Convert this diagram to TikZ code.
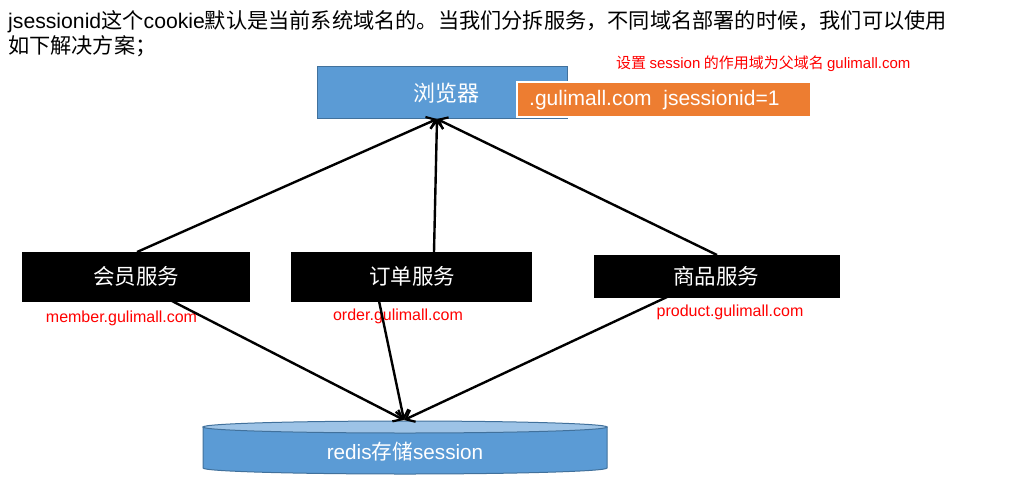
\documentclass[tikz,border=0pt]{standalone}
\usepackage{fontspec}
\setmainfont{Noto Sans CJK SC}
\newfontfamily\lat{Liberation Sans}
\usetikzlibrary{arrows.meta}
\definecolor{boxblue}{HTML}{5B9BD5}
\definecolor{boxedge}{HTML}{41719C}
\definecolor{topblue}{HTML}{9DC3E6}
\definecolor{orangefill}{HTML}{ED7D31}
\definecolor{redtxt}{HTML}{FF0000}
\tikzset{
  x=1pt,y=-1pt,
  svc/.style={fill=black,draw=black},
  svctext/.style={text=white,font=\fontsize{21.5}{24}\selectfont,inner sep=0pt},
  domlabel/.style={text=redtxt,font=\lat\fontsize{16}{18}\selectfont,anchor=center,inner sep=0pt},
  conn/.style={draw=black,line width=2.4pt,-{Straight Barb[length=8pt,width=13pt,line width=2.2pt]}},
}
\begin{document}
\begin{tikzpicture}
\useasboundingbox (0,0) rectangle (1020,488);
% title
\node[anchor=west,inner sep=0pt,font=\fontsize{21.2}{24}\selectfont] (t1) at (8,22) {{\lat jsessionid}这个{\lat cookie}默认是当前系统域名的。当我们分拆服务，不同域名部署的时候，我们可以使用};
\node[anchor=west,inner sep=0pt,font=\fontsize{21.2}{24}\selectfont] (t2) at (8,46) {如下解决方案；};
% browser
\path[fill=boxblue,draw=boxedge,line width=1pt] (317,66) rectangle (567,118);
\node[text=white,font=\fontsize{22}{24}\selectfont,inner sep=0pt] (browser) at (446,93) {浏览器};
\coordinate (btip) at (437,119);
% orange cookie box
\path[fill=orangefill,draw=white,line width=2pt] (517,82) rectangle (811,117);
\node[anchor=west,text=white,font=\lat\fontsize{21}{24}\selectfont,inner sep=0pt] (cookie) at (529,100) {.gulimall.com\ \ jsessionid=1};
\node[text=redtxt,font=\fontsize{15}{17}\selectfont,anchor=west,inner sep=0pt] (note) at (616,64) {设置 {\lat session} 的作用域为父域名 {\lat gulimall.com}};
% services
\path[svc] (22,252) rectangle (249,301);
\node[svctext] (mem) at (136,276) {会员服务};
\path[svc] (291,252) rectangle (531,301);
\node[svctext] (ord) at (412,276) {订单服务};
\path[svc] (594,255) rectangle (839,297);
\node[svctext] (prod) at (716,276) {商品服务};
\coordinate (memtop) at (137,252);
\coordinate (ordtop) at (434,252);
\coordinate (prodtop) at (717,255);
\coordinate (membot) at (172,301);
\coordinate (ordbot) at (379,301);
\coordinate (prodbot) at (667,297);
\node[domlabel] (ml) at (121.5,318) {member.gulimall.com};
\node[domlabel] (ol) at (398,316) {order.gulimall.com};
\node[domlabel] (pl) at (730,312) {product.gulimall.com};
% cylinder
\path[fill=boxblue,draw=boxedge,line width=1pt] (203,427) -- (203,468) arc[start angle=180,end angle=0,x radius=202,y radius=6] -- (607,427) -- cycle;
\path[fill=topblue,draw=boxedge,line width=1pt] (405,427) ellipse[x radius=202,y radius=6];
\node[text=white,font=\fontsize{20.7}{23}\selectfont,inner sep=0pt] (redis) at (405,452) {{\lat redis}存储{\lat session}};
\coordinate (rtip) at (404,420);
% connectors
\draw[conn] (memtop) -- (btip);
\draw[conn] (ordtop) -- (btip);
\draw[conn] (prodtop) -- (btip);
\draw[conn] (membot) -- (rtip);
\draw[conn] (ordbot) -- (rtip);
\draw[conn] (prodbot) -- (rtip);
\end{tikzpicture}
\end{document}
